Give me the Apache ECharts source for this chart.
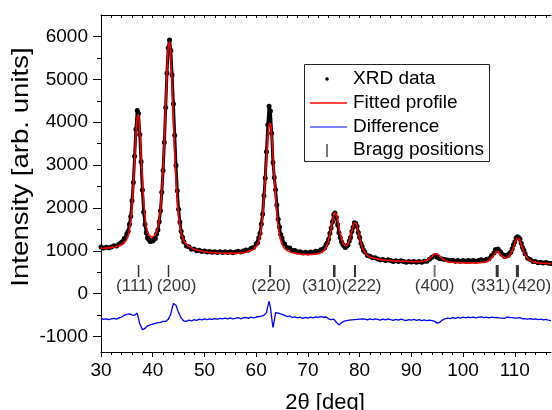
<!DOCTYPE html>
<html><head><meta charset="utf-8">
<script src="https://cdn.jsdelivr.net/npm/echarts@6/dist/echarts.min.js"></script>
<style>html,body{margin:0;padding:0;background:#fff}#c{width:552px;height:410px}</style>
</head><body><div id="c"></div>
<script>
// 2-theta grid (deg)
const twoTheta = [30,30.5,31,31.5,32,32.5,33,33.5,34,34.5,35,
35.25,35.5,35.75,36,36.25,36.5,36.75,37,37.25,37.5,37.75,38,38.25,38.5,38.75,39,39.25,39.5,39.75,40,40.25,40.5,40.75,41,41.25,41.5,41.75,42,42.25,42.5,42.75,43,43.25,43.5,43.75,44,44.25,44.5,44.75,45,45.25,45.5,45.75,46,
46.5,47,47.5,48,48.5,49,49.5,50,50.5,51,51.5,52,52.5,53,53.5,54,54.5,55,55.5,56,56.5,57,57.5,58,58.5,59,59.5,60,
60.25,60.5,60.75,61,61.25,61.5,61.75,62,62.25,62.5,62.75,63,63.25,63.5,63.75,64,64.25,64.5,64.75,65,
65.5,66,66.5,67,67.5,68,68.5,69,69.5,70,70.5,71,71.5,72,72.5,73,
73.25,73.5,73.75,74,74.25,74.5,74.75,75,75.25,75.5,75.75,76,76.25,76.5,76.75,77,77.25,77.5,77.75,78,78.25,78.5,78.75,79,79.25,79.5,79.75,80,80.25,80.5,80.75,81,
81.5,82,82.5,83,83.5,84,84.5,85,85.5,86,86.5,87,87.5,88,88.5,89,89.5,90,90.5,91,91.5,92,92.5,93,93.5,94,94.5,95,95.5,96,96.5,97,97.5,98,98.5,99,99.5,100,100.5,101,101.5,102,102.5,103,103.5,104,104.5,105,105.5,106,
106.25,106.5,106.75,107,107.25,107.5,107.75,108,108.25,108.5,108.75,109,109.25,109.5,109.75,110,110.25,110.5,110.75,111,111.25,111.5,111.75,112,
112.5,113,113.5,114,114.5,115,115.5,116,116.5,117];

// Observed XRD intensity
const yObs = [1089,1066,1084,1069,1090,1117,1110,1159,1204,1288,1398,
1456,1622,1800,2167,2596,3205,3833,4274,4204,3712,3076,2418,1906,1613,1420,1300,1264,1219,1236,1229,1270,1289,1392,1485,1677,1932,2367,2874,3534,4340,5144,5739,5917,5672,5101,4422,3695,2989,2403,1967,1670,1454,1314,1211,
1115,1094,1037,1041,1004,1013,984,993,971,984,964,979,959,977,958,977,960,981,956,973,991,971,998,1019,1014,1062,1079,1161,
1191,1303,1408,1626,1859,2285,2697,3308,3942,4370,4260,3743,3059,2711,2424,2070,1738,1556,1378,1299,
1157,1077,1063,1007,1008,973,980,949,968,950,970,958,989,986,1025,1051,
1071,1140,1187,1270,1408,1532,1677,1847,1883,1778,1605,1424,1308,1210,1145,1110,1080,1115,1136,1230,1312,1450,1552,1652,1636,1575,1430,1316,1179,1103,1014,971,
889,873,836,839,811,786,798,777,792,772,752,770,750,768,750,733,751,739,753,732,749,733,756,755,804,849,885,850,817,808,797,788,767,780,759,776,757,774,756,776,761,777,757,776,791,777,806,815,890,957,
1022,1032,1043,996,974,918,906,869,878,899,894,942,970,1051,1144,1204,1297,1330,1309,1274,1176,1077,1013,931,
829,796,749,750,720,735,715,725,712,705];

// Fitted profile
const yCalc = [1059,1060,1064,1069,1075,1086,1099,1118,1143,1186,1276,
1348,1489,1708,2055,2525,3103,3701,4121,4173,3814,3239,2653,2171,1817,1583,1443,1376,1341,1323,1331,1341,1376,1443,1557,1718,1994,2388,2914,3606,4381,5154,5729,5876,5539,4836,4045,3287,2652,2158,1804,1568,1413,1314,1241,
1155,1104,1068,1041,1020,1002,989,978,971,964,958,953,949,946,943,941,940,940,941,942,945,950,957,968,983,1005,1038,1099,
1150,1232,1357,1544,1818,2183,2636,3144,3625,3942,3974,3703,3243,2732,2261,1876,1585,1382,1245,1157,
1054,1005,976,956,942,932,924,919,917,914,913,918,923,935,953,995,
1030,1079,1151,1249,1377,1532,1698,1836,1894,1839,1707,1546,1399,1281,1196,1145,1126,1135,1172,1240,1337,1455,1572,1652,1652,1570,1440,1306,1184,1088,1014,960,
894,857,836,819,806,796,788,782,777,772,768,764,760,757,755,753,751,749,748,747,749,753,761,781,815,870,926,932,878,819,777,752,741,734,729,725,722,718,715,714,715,715,716,720,725,731,745,774,829,911,
955,981,982,955,918,882,855,838,832,838,858,891,939,1005,1083,1169,1246,1289,1283,1228,1145,1056,977,910,
819,771,744,730,720,713,709,705,702,700];

// Difference curve (offset, as plotted)
const yDiff = [-575,-601,-585,-606,-590,-575,-595,-565,-544,-504,-483,
-498,-473,-514,-493,-534,-504,-473,-452,-575,-708,-769,-840,-871,-810,-769,-749,-718,-728,-692,-708,-677,-692,-657,-677,-646,-667,-626,-646,-677,-646,-616,-595,-565,-473,-340,-228,-197,-269,-361,-442,-504,-565,-606,-636,
-646,-616,-636,-606,-621,-595,-611,-590,-606,-585,-601,-580,-595,-575,-590,-570,-585,-565,-590,-575,-560,-585,-565,-555,-575,-549,-565,-544,
-565,-534,-555,-524,-565,-504,-544,-442,-289,-177,-320,-565,-789,-626,-442,-412,-452,-432,-473,-463,
-504,-534,-519,-555,-539,-565,-549,-575,-555,-570,-549,-565,-539,-555,-534,-549,
-565,-544,-570,-585,-575,-606,-626,-595,-616,-667,-708,-728,-697,-677,-657,-641,-652,-626,-641,-616,-631,-611,-626,-606,-621,-601,-616,-595,-611,-590,-606,-595,
-611,-590,-606,-585,-601,-616,-595,-611,-590,-606,-621,-601,-616,-595,-611,-626,-606,-616,-601,-621,-606,-626,-611,-631,-616,-626,-646,-687,-667,-616,-585,-570,-580,-560,-575,-555,-570,-549,-565,-544,-560,-544,-565,-549,-539,-560,-544,-565,-544,-560,
-539,-555,-544,-565,-549,-570,-555,-575,-560,-544,-570,-555,-575,-560,-544,-570,-555,-565,-580,-560,-575,-585,-570,-585,
-595,-580,-601,-585,-606,-595,-611,-601,-616,-626];

// Bragg reflections
const braggPos = [37.26, 43.05, 62.7, 75.1, 79.1, 94.5, 106.6, 110.5];
const braggMarkLevel = [528, 528, 528, 528, 528, 528, 528, 528];
const hkl = ['(111)', '(200)', '(220)', '(310)', '(222)', '(400)', '(331)', '(420)'];
const hklLabelPos = [36.5, 44.6, 62.9, 72.7, 80.4, 94.5, 105.3, 113.2];
const hklLabelLevel = [170, 170, 170, 170, 170, 170, 170, 170];

// Axis ticks
const xMajorTicks = [30, 40, 50, 60, 70, 80, 90, 100, 110];
const xMinorTicks = [32, 34, 36, 38, 42, 44, 46, 48, 52, 54, 56, 58, 62, 64, 66, 68, 72, 74, 76, 78, 82, 84, 86, 88, 92, 94, 96, 98, 102, 104, 106, 108, 112, 114, 116];
const xTopTicks = [30, 32, 34, 36, 38, 40, 42, 44, 46, 48, 50, 52, 54, 56, 58, 60, 62, 64, 66, 68, 70, 72, 74, 76, 78, 80, 82, 84, 86, 88, 90, 92, 94, 96, 98, 100, 102, 104, 106, 108, 110, 112, 114, 116];
const yMajorTicks = [-1000, 0, 1000, 2000, 3000, 4000, 5000, 6000];
const yMinorTicks = [-500, 500, 1500, 2500, 3500, 4500, 5500];

const legendNames = ['XRD data', 'Fitted profile', 'Difference', 'Bragg positions'];
const xTitle = '2θ [deg]';
const yTitle = 'Intensity [arb. units]';

const FONT = "'Liberation Sans', Arial, sans-serif";
const zip = (xs, ys) => xs.map((x, i) => [x, ys[i]]);

// Bragg tick appearance (Ka1/Ka2 pairs widen at high angle)
const braggMarkWidth = [1.5, 1.5, 2, 2.5, 2, 2, 3, 3];
const braggMarkColor = ['#000', '#000', '#000', '#000', '#000', '#555', '#000', '#000'];

const chart = echarts.init(document.getElementById('c'), null, { renderer: 'canvas' });

const axisBlack = { color: '#000', width: 1 };
const X_MIN = 30, X_MAX = 117, Y_MIN = -1360, Y_MAX = 6500;

const txt = (s, x, y, size, extra) => Object.assign({
  type: 'text', x: x, y: y,
  style: { text: s, font: size + 'px ' + FONT, fill: '#000', textVerticalAlign: 'middle', verticalAlign: 'middle' }
}, extra || {});
const ctxt = (s, x, y, size, extra) => Object.assign({
  type: 'text', x: x, y: y,
  style: { text: s, font: size + 'px ' + FONT, fill: '#000', textAlign: 'center', align: 'center', textVerticalAlign: 'middle', verticalAlign: 'middle' }
}, extra || {});

const option = {
  animation: false,
  backgroundColor: '#fff',
  grid: { left: 101, right: 1, top: 15, bottom: 58, containLabel: false, outerBoundsMode: 'none' },
  xAxis: [
    {
      type: 'value', min: X_MIN, max: X_MAX, position: 'bottom',
      axisLine: { show: true, onZero: false, lineStyle: axisBlack },
      axisTick: { show: true, inside: false, length: 5, lineStyle: axisBlack, customValues: xMajorTicks },
      axisLabel: { color: '#000', fontSize: 19, fontFamily: FONT, margin: 9, customValues: xMajorTicks, formatter: v => String(v) },
      splitLine: { show: false }
    },
    {
      type: 'value', min: X_MIN, max: X_MAX, position: 'bottom',
      axisLine: { show: false, onZero: false },
      axisTick: { show: true, inside: false, length: 3, lineStyle: axisBlack, customValues: xMinorTicks },
      axisLabel: { show: false },
      splitLine: { show: false }
    },
    {
      type: 'value', min: X_MIN, max: X_MAX, position: 'top',
      axisLine: { show: true, onZero: false, lineStyle: axisBlack },
      axisTick: { show: true, inside: true, length: 3, lineStyle: axisBlack, customValues: xTopTicks },
      axisLabel: { show: false },
      splitLine: { show: false }
    }
  ],
  yAxis: [
    {
      type: 'value', min: Y_MIN, max: Y_MAX, position: 'left',
      axisLine: { show: true, onZero: false, lineStyle: axisBlack },
      axisTick: { show: true, inside: false, length: 8, lineStyle: axisBlack, customValues: yMajorTicks },
      axisLabel: { color: '#000', fontSize: 19, fontFamily: FONT, margin: 13, customValues: yMajorTicks, formatter: v => String(v) },
      splitLine: { show: false }
    },
    {
      type: 'value', min: Y_MIN, max: Y_MAX, position: 'left',
      axisLine: { show: false, onZero: false },
      axisTick: { show: true, inside: false, length: 4, lineStyle: axisBlack, customValues: yMinorTicks },
      axisLabel: { show: false },
      splitLine: { show: false }
    }
  ],
  series: [
    {
      name: legendNames[0], type: 'line', xAxisIndex: 0, yAxisIndex: 0,
      data: zip(twoTheta, yObs),
      symbol: 'circle', symbolSize: 5, showSymbol: true, showAllSymbol: true,
      itemStyle: { color: '#000' },
      lineStyle: { color: '#000', width: 3 },
      z: 2
    },
    {
      name: legendNames[1], type: 'line', xAxisIndex: 0, yAxisIndex: 0,
      data: zip(twoTheta, yCalc),
      showSymbol: false, smooth: 0.3,
      lineStyle: { color: '#ff0000', width: 1.6 },
      itemStyle: { color: '#ff0000' },
      z: 3
    },
    {
      name: legendNames[2], type: 'line', xAxisIndex: 0, yAxisIndex: 0,
      data: zip(twoTheta, yDiff),
      showSymbol: false,
      lineStyle: { color: '#0000ff', width: 1.3 },
      itemStyle: { color: '#0000ff' },
      z: 3
    },
    {
      name: legendNames[3], type: 'scatter', xAxisIndex: 0, yAxisIndex: 0,
      data: braggPos.map((x, i) => ({
        value: [x, braggMarkLevel[i]],
        symbolSize: [braggMarkWidth[i], 12],
        itemStyle: { color: braggMarkColor[i] }
      })),
      symbol: 'rect',
      itemStyle: { color: '#000' },
      z: 3
    },
    {
      name: 'hkl', type: 'scatter', xAxisIndex: 0, yAxisIndex: 0,
      data: hklLabelPos.map((x, i) => ({ value: [x, hklLabelLevel[i]], name: hkl[i] })),
      symbolSize: 0,
      label: { show: true, position: 'inside', formatter: p => p.name, color: '#000', fontSize: 17, fontFamily: FONT },
      z: 4
    }
  ],
  graphic: [
    ctxt(yTitle, 21, 167, 24, { rotation: Math.PI / 2, scaleX: 1.15 }),
    ctxt(xTitle, 325, 403, 22),
    {
      type: 'group', z: 100,
      children: [
        { type: 'rect', shape: { x: 304.5, y: 64.5, width: 185, height: 97 }, style: { fill: '#fff', stroke: '#222', lineWidth: 1 } },
        { type: 'circle', shape: { cx: 327, cy: 79, r: 1.8 }, style: { fill: '#000' } },
        { type: 'line', shape: { x1: 310, y1: 103, x2: 347, y2: 103 }, style: { stroke: '#ff0000', lineWidth: 1.5 } },
        { type: 'line', shape: { x1: 310, y1: 127, x2: 347, y2: 127 }, style: { stroke: '#0000ff', lineWidth: 1.2 } },
        { type: 'line', shape: { x1: 327, y1: 144, x2: 327, y2: 157 }, style: { stroke: '#777', lineWidth: 2 } },
        txt(legendNames[0], 353, 79, 19),
        txt(legendNames[1], 353, 103, 19),
        txt(legendNames[2], 353, 127, 19),
        txt(legendNames[3], 353, 150, 19)
      ]
    }
  ]
};
chart.setOption(option);
</script>
</body></html>
